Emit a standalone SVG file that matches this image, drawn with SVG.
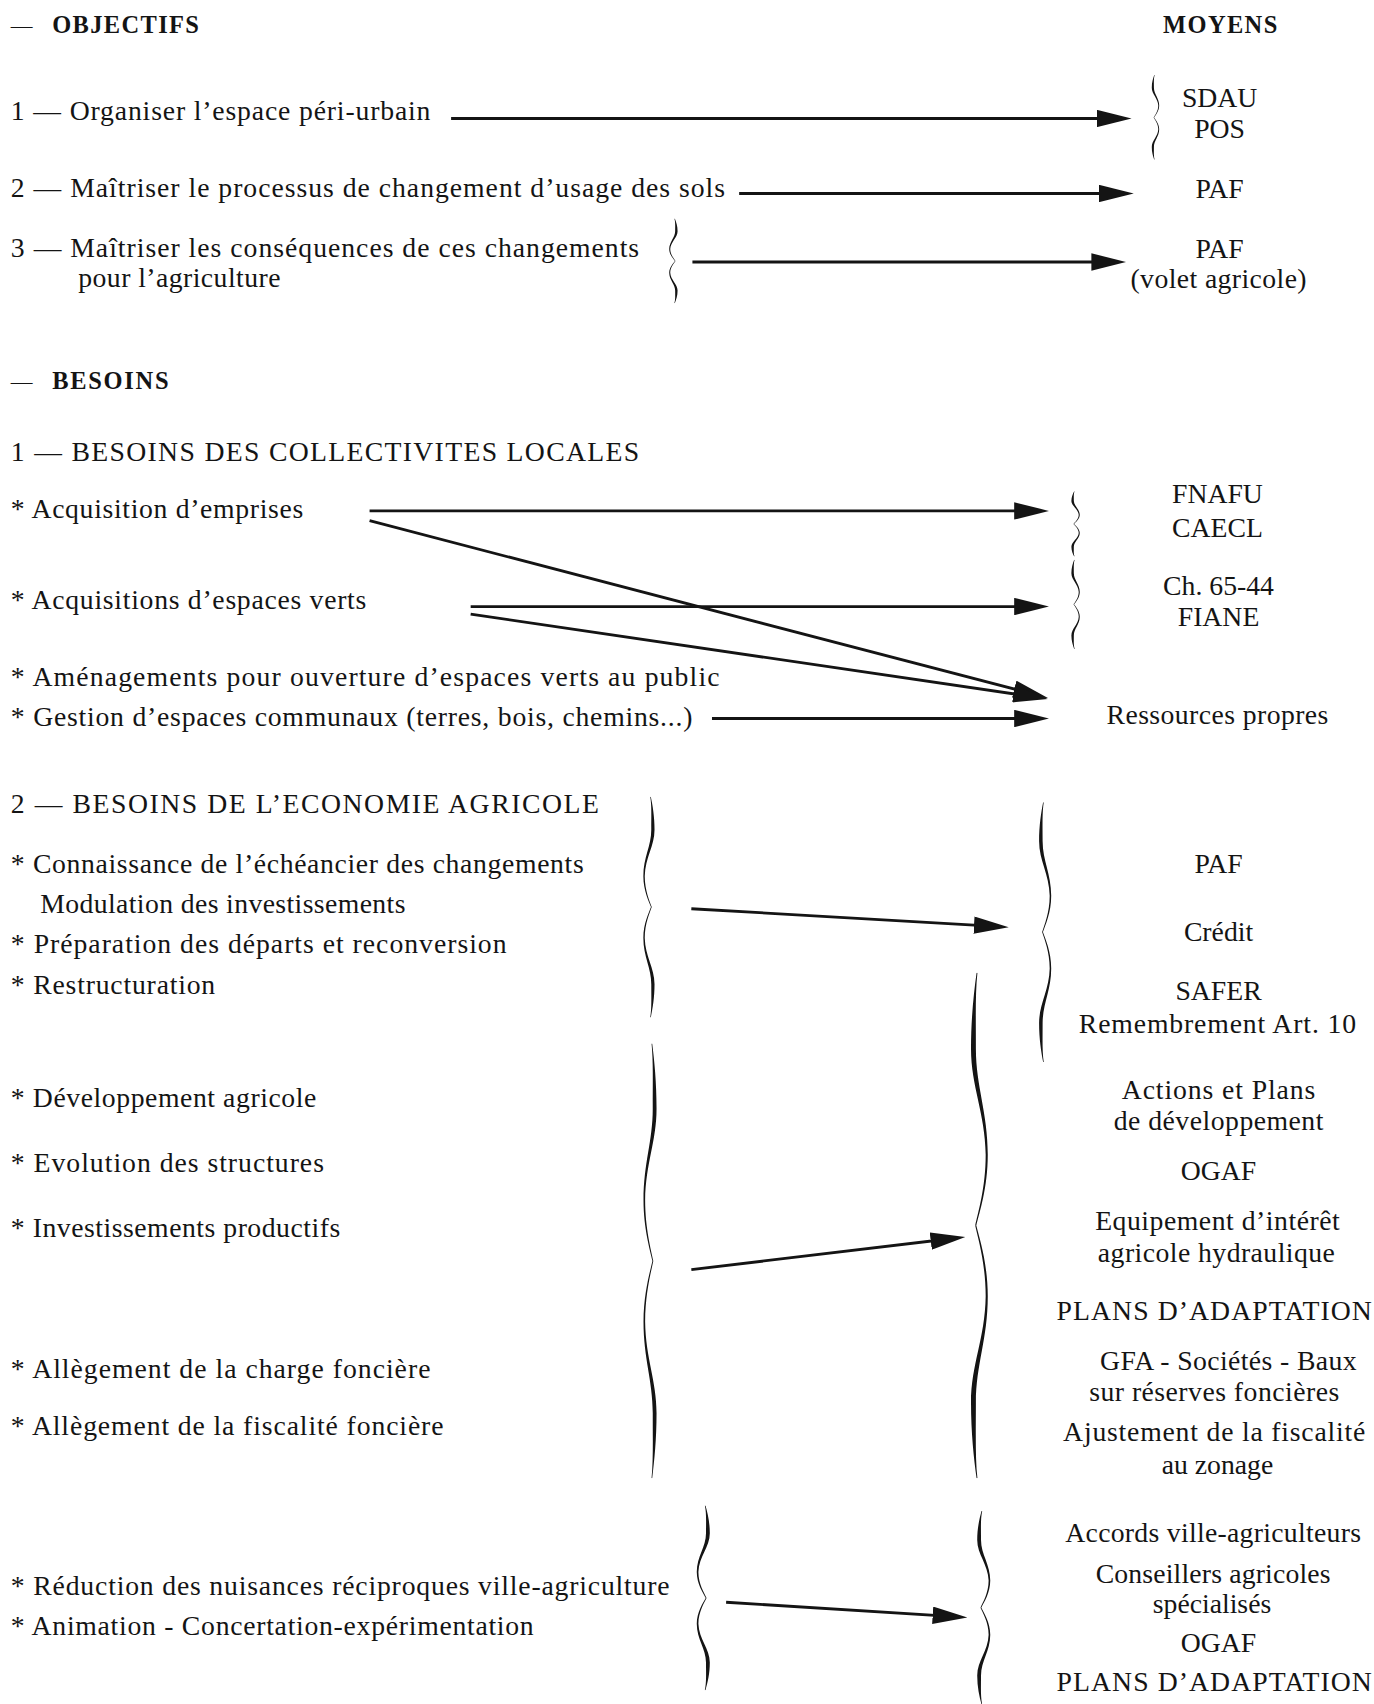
<svg xmlns="http://www.w3.org/2000/svg" xmlns:xlink="http://www.w3.org/1999/xlink" width="1374" height="1704" viewBox="0 0 1374 1704">
<style>
.t{font-family:"Liberation Serif","Times New Roman",serif;font-size:25.5px;fill:#141414}
.c{text-anchor:middle}
.h{font-family:"Liberation Serif","Times New Roman",serif;font-size:22.5px;font-weight:bold;fill:#141414}
.d{font-family:"Liberation Serif","Times New Roman",serif;font-size:20px;fill:#141414}
.conn line{stroke:#141414;stroke-width:2.6;marker-end:url(#ah)}
.br{fill:#141414}
</style>
<defs>
<marker id="ah" markerUnits="userSpaceOnUse" viewBox="0 0 32 16" markerWidth="32" markerHeight="16" refX="24" refY="8" orient="auto">
<path d="M0,0 L32,8 L0,16 Z" fill="#141414"/>
</marker>
<path id="bh" d="M5,0 C3,8 1,18 1,30 C1,45 11,55 11.5,72 C11.5,85 6,95 4,100 L4.8,100 C7,95 13,85 13,72 C13,55 4.5,45 4.5,30 C4.5,18 4,8 5.6,0 Z"/>
<symbol id="braceL" viewBox="0 0 14 200" preserveAspectRatio="none">
<use xlink:href="#bh" href="#bh"/>
<use xlink:href="#bh" href="#bh" transform="translate(0,200) scale(1,-1)"/>
</symbol>
<symbol id="braceR" viewBox="0 0 14 200" preserveAspectRatio="none">
<g transform="translate(14,0) scale(-1,1)">
<use xlink:href="#bh" href="#bh"/>
<use xlink:href="#bh" href="#bh" transform="translate(0,200) scale(1,-1)"/>
</g>
</symbol>
</defs>
<rect width="1374" height="1704" fill="#ffffff"/>
<g transform="scale(1.0870)">

<g id="hdr-objectifs"><text class="d" x="10" y="30">—</text><text class="h" x="48" y="30" textLength="135">OBJECTIFS</text></g>
<g id="hdr-moyens"><text class="h" x="1070" y="30" textLength="105">MOYENS</text></g>

<g id="obj1"><text class="t" x="10" y="110" textLength="386">1 — Organiser l’espace péri-urbain</text></g>
<g id="obj2"><text class="t" x="10" y="181" textLength="657">2 — Maîtriser le processus de changement d’usage des sols</text></g>
<g id="obj3"><text class="t" x="10" y="236" textLength="578">3 — Maîtriser les conséquences de ces changements</text><text class="t" x="72" y="264" textLength="186">pour l’agriculture</text></g>

<g id="moy-sdau-pos"><text class="t c" x="1122" y="98">SDAU</text><text class="t c" x="1122" y="127">POS</text></g>
<g id="moy-paf"><text class="t c" x="1122" y="182">PAF</text></g>
<g id="moy-paf-volet"><text class="t c" x="1122" y="237">PAF</text><text class="t c" x="1121" y="265" textLength="162">(volet agricole)</text></g>

<g id="hdr-besoins"><text class="d" x="10" y="358">—</text><text class="h" x="48" y="358" textLength="107">BESOINS</text></g>

<g id="b1-title"><text class="t" x="10" y="424" textLength="578">1 — BESOINS DES COLLECTIVITES LOCALES</text></g>
<g id="b1-acq-emprises"><text class="t" x="10" y="477" textLength="269">* Acquisition d’emprises</text></g>
<g id="b1-acq-verts"><text class="t" x="10" y="560" textLength="327">* Acquisitions d’espaces verts</text></g>
<g id="b1-amenagements"><text class="t" x="10" y="631" textLength="652">* Aménagements pour ouverture d’espaces verts au public</text></g>
<g id="b1-gestion"><text class="t" x="10" y="668" textLength="627">* Gestion d’espaces communaux (terres, bois, chemins...)</text></g>

<g id="m-fnafu"><text class="t c" x="1120" y="463">FNAFU</text><text class="t c" x="1120" y="494">CAECL</text></g>
<g id="m-ch6544"><text class="t c" x="1121" y="547">Ch. 65-44</text><text class="t c" x="1121" y="576">FIANE</text></g>
<g id="m-ressources"><text class="t c" x="1120" y="666" textLength="204">Ressources propres</text></g>

<g id="b2-title"><text class="t" x="10" y="748" textLength="541">2 — BESOINS DE L’ECONOMIE AGRICOLE</text></g>
<g id="b2-group1">
<text class="t" x="10" y="803" textLength="527">* Connaissance de l’échéancier des changements</text>
<text class="t" x="37" y="840" textLength="336">Modulation des investissements</text>
<text class="t" x="10" y="877" textLength="456">* Préparation des départs et reconversion</text>
<text class="t" x="10" y="914" textLength="188">* Restructuration</text>
</g>
<g id="b2-group2">
<text class="t" x="10" y="1018" textLength="281">* Développement agricole</text>
<text class="t" x="10" y="1078" textLength="288">* Evolution des structures</text>
<text class="t" x="10" y="1138" textLength="303">* Investissements productifs</text>
<text class="t" x="10" y="1268" textLength="386">* Allègement de la charge foncière</text>
<text class="t" x="10" y="1320" textLength="398">* Allègement de la fiscalité foncière</text>
</g>
<g id="b2-group3">
<text class="t" x="10" y="1467" textLength="606">* Réduction des nuisances réciproques ville-agriculture</text>
<text class="t" x="10" y="1504" textLength="481">* Animation - Concertation-expérimentation</text>
</g>

<g id="m-group1">
<text class="t c" x="1121" y="803">PAF</text>
<text class="t c" x="1121" y="866">Crédit</text>
<text class="t c" x="1121" y="920">SAFER</text>
<text class="t c" x="1120" y="950" textLength="255">Remembrement Art. 10</text>
</g>
<g id="m-group2">
<text class="t c" x="1121" y="1011" textLength="178">Actions et Plans</text>
<text class="t c" x="1121" y="1040" textLength="193">de développement</text>
<text class="t c" x="1121" y="1086">OGAF</text>
<text class="t c" x="1120" y="1132" textLength="225">Equipement d’intérêt</text>
<text class="t c" x="1119" y="1161" textLength="218">agricole hydraulique</text>
<text class="t c" x="1117" y="1214" textLength="290">PLANS D’ADAPTATION</text>
<text class="t c" x="1130" y="1260" textLength="236">GFA - Sociétés - Baux</text>
<text class="t c" x="1117" y="1289" textLength="230">sur réserves foncières</text>
<text class="t c" x="1117" y="1326" textLength="278">Ajustement de la fiscalité</text>
<text class="t c" x="1120" y="1356">au zonage</text>
</g>
<g id="m-group3">
<text class="t c" x="1116" y="1419" textLength="272">Accords ville-agriculteurs</text>
<text class="t c" x="1116" y="1456" textLength="216">Conseillers agricoles</text>
<text class="t c" x="1115" y="1484">spécialisés</text>
<text class="t c" x="1121" y="1520">OGAF</text>
<text class="t c" x="1117" y="1556" textLength="290">PLANS D’ADAPTATION</text>
</g>

<g id="braces" class="br">
<use href="#braceL" xlink:href="#braceL" x="1059" y="69" width="8" height="78"/>
<use href="#braceR" xlink:href="#braceR" x="615" y="201" width="9" height="78"/>
<use href="#braceL" xlink:href="#braceL" x="985" y="452" width="9" height="60"/>
<use href="#braceL" xlink:href="#braceL" x="985" y="515" width="9" height="82"/>
<use href="#braceR" xlink:href="#braceR" x="591" y="733" width="12" height="203"/>
<use href="#braceL" xlink:href="#braceL" x="955" y="738" width="13" height="239"/>
<use href="#braceR" xlink:href="#braceR" x="591" y="960" width="14" height="400"/>
<use href="#braceL" xlink:href="#braceL" x="892" y="895" width="18" height="465"/>
<use href="#braceR" xlink:href="#braceR" x="640" y="1385" width="14" height="170"/>
<use href="#braceL" xlink:href="#braceL" x="898" y="1390" width="14" height="178"/>
</g>

<g id="connectors" class="conn">
<line x1="415" y1="109" x2="1033" y2="109"/>
<line x1="680" y1="178" x2="1035" y2="178"/>
<line x1="637" y1="241" x2="1028" y2="241"/>
<line x1="340" y1="470" x2="957" y2="470"/>
<line x1="340" y1="479" x2="956.3" y2="640"/>
<line x1="433" y1="558" x2="957" y2="558"/>
<line x1="433" y1="565" x2="956.1" y2="641.8"/>
<line x1="655" y1="661" x2="957" y2="661"/>
<line x1="636" y1="836" x2="920" y2="852.5"/>
<line x1="636" y1="1168" x2="880.1" y2="1138.9"/>
<line x1="668" y1="1474" x2="882" y2="1487.5"/>
</g>

</g>
</svg>
